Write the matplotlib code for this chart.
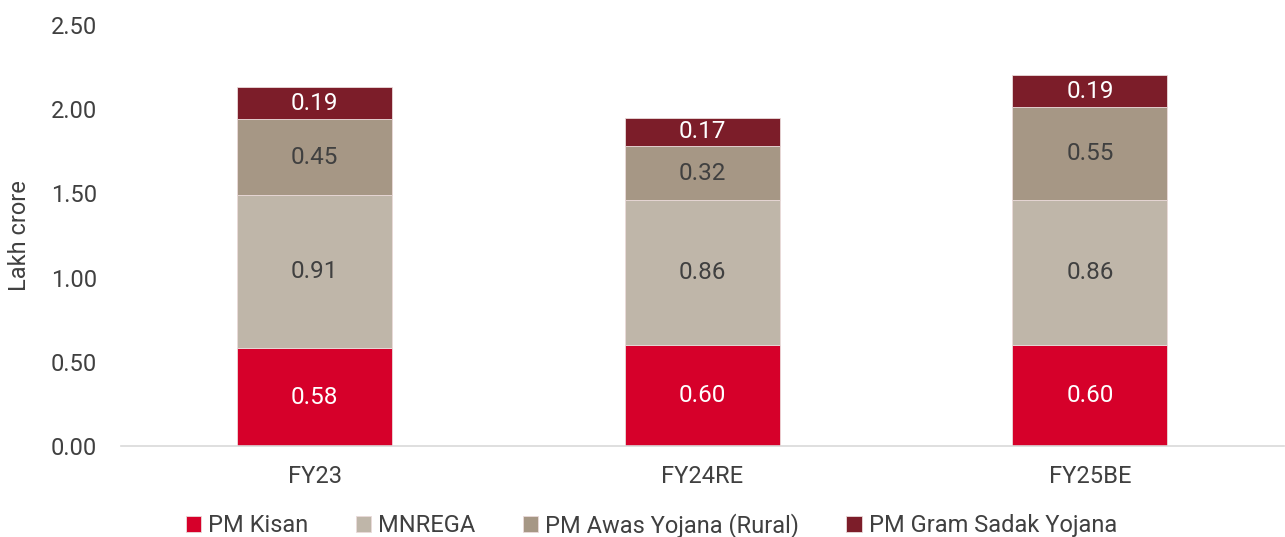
import numpy as np
import matplotlib.pyplot as plt

plt.rcParams['font.family'] = ['Roboto', 'DejaVu Sans']

# data
years = ["FY23", "FY24RE", "FY25BE"]
pm_kisan = [0.58, 0.60, 0.60]
mnrega = [0.91, 0.86, 0.86]
pm_awas = [0.45, 0.32, 0.55]
pm_gram_sadak = [0.19, 0.17, 0.19]

series = [
    ("PM Kisan", pm_kisan, "#D6002A", "white"),
    ("MNREGA", mnrega, "#BFB6A9", "#404040"),
    ("PM Awas Yojana (Rural)", pm_awas, "#A69785", "#404040"),
    ("PM Gram Sadak Yojana", pm_gram_sadak, "#7C1D29", "white"),
]

fig = plt.figure(figsize=(12.85, 5.37), dpi=100)
ax = fig.add_axes([0.094, 0.1695, 0.905, 0.784])

x = np.arange(len(years))
bottom = np.zeros(len(years))
for name, vals, color, txt in series:
    ax.bar(x, vals, 0.4, bottom=bottom, color=color, label=name,
           edgecolor="#eadada", linewidth=0.6)
    for xi, b, v in zip(x, bottom, vals):
        ax.text(xi, b + v / 2, f"{v:.2f}", ha="center", va="center",
                color=txt, fontsize=17.5)
    bottom += np.array(vals)

ax.set_xlim(-0.5, 2.5)
ax.set_ylim(0, 2.5)
ax.set_yticks(np.arange(0, 2.51, 0.5))
ax.set_yticklabels([f"{v:.2f}" for v in np.arange(0, 2.51, 0.5)])
ax.set_xticks(x)
ax.set_xticklabels(years)
ax.tick_params(axis="both", length=0, labelsize=17, colors="#404040")
ax.tick_params(axis="x", pad=14)
ax.tick_params(axis="y", pad=17)
for s in ["top", "right", "left"]:
    ax.spines[s].set_visible(False)
ax.spines["bottom"].set_color("#D9D9D9")
ax.spines["bottom"].set_linewidth(1.2)
ax.set_ylabel("Lakh crore", fontsize=17, color="#404040", labelpad=14)

fig.legend(*ax.get_legend_handles_labels(), loc="center",
           bbox_to_anchor=(0.507, 0.022), ncol=4, frameon=False,
           fontsize=17, handlelength=0.65, handleheight=0.65, handletextpad=0.3,
           columnspacing=2.0, labelcolor="#404040")

fig.savefig("out.png", dpi=100)
